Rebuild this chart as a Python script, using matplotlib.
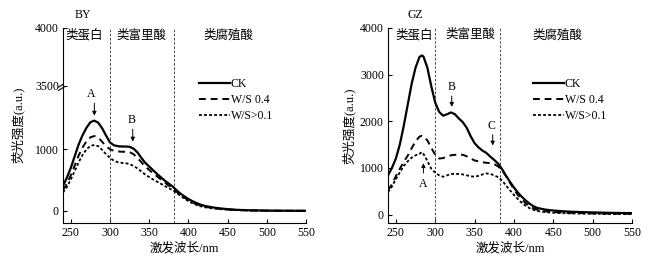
import matplotlib
matplotlib.use('Agg')
import matplotlib.pyplot as plt
import matplotlib.transforms as mtransforms

plt.rcParams['font.family'] = ['Liberation Serif', 'Noto Sans CJK SC']
plt.rcParams['font.size'] = 8.5
plt.rcParams['axes.unicode_minus'] = False

# ---- data ----
wl_by = [240, 245, 250, 255, 260, 265, 270, 275, 280, 285, 290, 295, 300, 305, 310, 315,
         320, 325, 330, 335, 340, 345, 350, 355, 360, 365, 370, 375, 380, 385, 390, 395,
         400, 405, 410, 415, 420, 430, 440, 450, 460, 475, 500, 525, 550]
by_ck = [410, 540, 700, 890, 1080, 1230, 1350, 1440, 1465, 1430, 1340, 1220, 1110, 1065, 1050, 1045,
         1045, 1040, 1010, 950, 860, 780, 720, 660, 600, 545, 490, 445, 395, 335, 280, 235,
         195, 160, 130, 105, 85, 60, 42, 30, 20, 12, 6, 4, 3]
by_ws04 = [340, 440, 580, 740, 900, 1030, 1130, 1195, 1215, 1190, 1120, 1050, 1000, 975, 965, 960,
           960, 955, 920, 860, 790, 720, 665, 610, 560, 510, 460, 410, 360, 310, 260, 215,
           175, 140, 112, 90, 72, 50, 35, 25, 17, 10, 5, 3, 2]
by_ws01 = [300, 390, 510, 650, 790, 910, 1000, 1055, 1070, 1050, 990, 920, 860, 815, 790, 780,
           775, 760, 730, 690, 640, 590, 550, 510, 475, 440, 405, 370, 335, 290, 245, 200,
           160, 125, 100, 78, 62, 42, 30, 20, 14, 8, 4, 2, 2]

wl_gz = [240, 245, 250, 255, 260, 265, 270, 275, 280, 283, 285, 290, 295, 300, 305, 310, 315,
         320, 325, 330, 335, 340, 345, 350, 355, 360, 365, 370, 375, 380, 385, 390, 395,
         400, 405, 410, 415, 420, 425, 430, 440, 450, 460, 475, 500, 525, 550]
gz_ck = [840, 1000, 1200, 1500, 1900, 2350, 2800, 3150, 3380, 3410, 3390, 3150, 2750, 2400, 2200, 2120, 2150,
         2190, 2150, 2060, 1980, 1860, 1680, 1530, 1440, 1370, 1320, 1240, 1170, 1090, 970, 830, 700,
         580, 470, 380, 300, 230, 175, 140, 105, 85, 72, 58, 45, 35, 30]
gz_ws04 = [520, 650, 820, 980, 1130, 1260, 1420, 1570, 1670, 1690, 1680, 1590, 1430, 1280, 1200, 1210, 1240,
           1270, 1280, 1290, 1280, 1250, 1200, 1160, 1140, 1120, 1110, 1100, 1080, 1030, 950, 820, 680,
           540, 420, 320, 240, 175, 130, 100, 70, 55, 45, 35, 25, 18, 15]
gz_ws01 = [480, 600, 760, 900, 1040, 1140, 1220, 1270, 1300, 1340, 1300, 1150, 980, 900, 840, 810, 840,
           870, 870, 870, 860, 840, 820, 810, 830, 860, 880, 870, 840, 800, 730, 620, 520,
           420, 330, 250, 185, 135, 100, 75, 50, 38, 30, 22, 15, 10, 8]

labels = ['CK', 'W/S 0.4', 'W/S>0.1']
regions = ['类蛋白', '类富里酸', '类腐殖酸']
bounds = [300, 382]

styles = [dict(color='black', lw=1.6, ls='-'),
          dict(color='black', lw=1.4, ls=(0, (3.5, 2.5))),
          dict(color='black', lw=1.3, ls=(0, (1.6, 1.2)))]

fig = plt.figure(figsize=(6.6, 2.63), dpi=100)


def style_ax(ax, bottom=True):
    ax.spines['top'].set_visible(False)
    ax.spines['right'].set_visible(False)
    ax.tick_params(direction='in', length=3, width=0.8, labelsize=8.5, pad=3)
    ax.set_xlim(240, 550)
    if not bottom:
        ax.spines['bottom'].set_visible(False)
        ax.tick_params(axis='x', bottom=False, labelbottom=False)
    else:
        ax.set_xticks([250, 300, 350, 400, 450, 500, 550])


def draw_bounds(ax):
    for b in bounds:
        ax.axvline(b, color='#444444', lw=0.7, ls=(0, (2.5, 1.8)))


# ---- left panel: BY, broken y axis ----
axb = fig.add_axes([63 / 660, 1 - 223 / 263, 243 / 660, 137 / 263])
axt = fig.add_axes([63 / 660, 1 - 86 / 263, 243 / 660, 58 / 263], sharex=axb)
style_ax(axb)
style_ax(axt, bottom=False)
axb.set_ylim(-195, 2026)
axb.set_yticks([0, 1000])
axt.set_ylim(3500, 4000)
axt.set_yticks([3500, 4000])
for ax in (axb, axt):
    draw_bounds(ax)
for vals, st, lab in zip([by_ck, by_ws04, by_ws01], styles, labels):
    axb.plot(wl_by, vals, label=lab, **st)

# break marks on the y spine
for dy in (-0.012, 0.012):
    axb.plot([-0.018, 0.018], [1 + dy - 0.02, 1 + dy + 0.02], transform=axb.transAxes,
             color='black', lw=0.8, clip_on=False)

trt = mtransforms.blended_transform_factory(axt.transData, axt.transAxes)
for name, xc in zip(regions, [266.5, 339.5, 451]):
    axt.text(xc, 0.87, name, transform=trt, ha='center', va='center', fontsize=9)
axt.text(0.08, 1.22, 'BY', transform=axt.transAxes, ha='center', va='center', fontsize=8.5)

axb.text(275.6, 1896, 'A', ha='center', va='center', fontsize=8.5)
axb.annotate('', xy=(280, 1500), xytext=(280, 1790),
             arrowprops=dict(arrowstyle='-|>', lw=0.7, color='black', mutation_scale=6))
axb.text(327, 1475, 'B', ha='center', va='center', fontsize=8.5)
axb.annotate('', xy=(329, 1080), xytext=(329, 1370),
             arrowprops=dict(arrowstyle='-|>', lw=0.7, color='black', mutation_scale=6))

axb.set_xlabel('激发波长/nm', fontsize=9, labelpad=2)
fig.text(18 / 660, 1 - 125 / 263, '荧光强度(a.u.)', rotation=90, ha='center', va='center', fontsize=9)

h, l = axb.get_legend_handles_labels()
fig.legend(h, l, loc='upper left', bbox_to_anchor=(199 / 660, 1 - 78 / 263), frameon=False,
           fontsize=8.5, handlelength=2.6, handletextpad=0.1, labelspacing=0.35,
           borderpad=0, borderaxespad=0)

# ---- right panel: GZ ----
axr = fig.add_axes([388 / 660, 1 - 223 / 263, 244 / 660, 195 / 263])
style_ax(axr)
axr.set_ylim(-182, 4000)
axr.set_yticks([0, 1000, 2000, 3000, 4000])
draw_bounds(axr)
for vals, st, lab in zip([gz_ck, gz_ws04, gz_ws01], styles, labels):
    axr.plot(wl_gz, vals, label=lab, **st)

trr = mtransforms.blended_transform_factory(axr.transData, axr.transAxes)
for name, xc in zip(regions, [273, 345, 455]):
    axr.text(xc, 0.963, name, transform=trr, ha='center', va='center', fontsize=9)
axr.text(0.11, 1.065, 'GZ', transform=axr.transAxes, ha='center', va='center', fontsize=8.5)

axr.text(285, 650, 'A', ha='center', va='center', fontsize=8.5)
axr.annotate('', xy=(285, 1160), xytext=(285, 830),
             arrowprops=dict(arrowstyle='-|>', lw=0.7, color='black', mutation_scale=6))
axr.text(321, 2745, 'B', ha='center', va='center', fontsize=8.5)
axr.annotate('', xy=(321, 2250), xytext=(321, 2600),
             arrowprops=dict(arrowstyle='-|>', lw=0.7, color='black', mutation_scale=6))
axr.text(372, 1908, 'C', ha='center', va='center', fontsize=8.5)
axr.annotate('', xy=(373, 1420), xytext=(373, 1770),
             arrowprops=dict(arrowstyle='-|>', lw=0.7, color='black', mutation_scale=6))

axr.set_xlabel('激发波长/nm', fontsize=9, labelpad=2)
axr.set_ylabel('荧光强度(a.u.)', fontsize=9, labelpad=3)

h, l = axr.get_legend_handles_labels()
fig.legend(h, l, loc='upper left', bbox_to_anchor=(533 / 660, 1 - 78 / 263), frameon=False,
           fontsize=8.5, handlelength=2.6, handletextpad=0.1, labelspacing=0.35,
           borderpad=0, borderaxespad=0)

fig.savefig('out.png', dpi=100)
